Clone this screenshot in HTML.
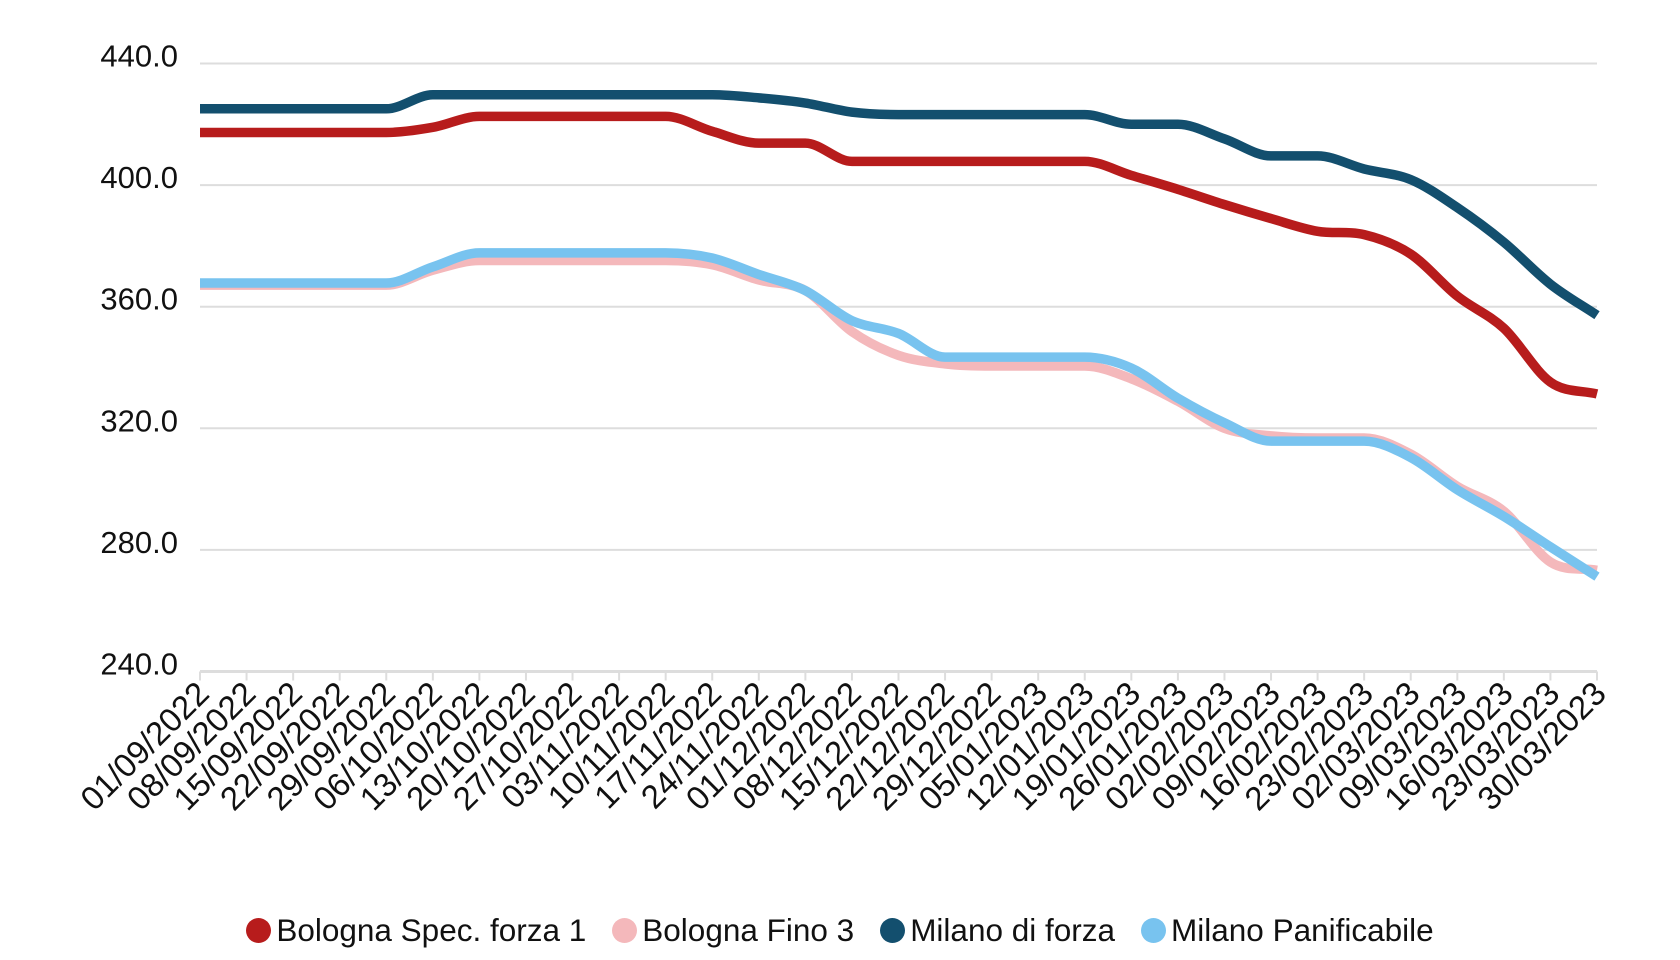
<!DOCTYPE html>
<html><head><meta charset="utf-8"><style>
body{margin:0;background:#fff;width:1680px;height:960px;overflow:hidden}
svg{position:absolute;left:0;top:0}
.legend{position:absolute;left:0;width:1680px;top:912px;display:flex;justify-content:center;font-family:"Liberation Sans",sans-serif;font-size:31.5px;color:#111}
.legend span{display:flex;align-items:center;margin:0 13px}
.legend i{display:inline-block;width:25px;height:25px;border-radius:50%;margin-right:5px}
</style></head><body>
<svg id="c" width="1680" height="960" xmlns="http://www.w3.org/2000/svg" font-family="Liberation Sans, sans-serif"></svg>
<div class="legend">
<span><i style="background:#b71c1c"></i>Bologna Spec. forza 1</span>
<span><i style="background:#f4b8bb"></i>Bologna Fino 3</span>
<span><i style="background:#134f6e"></i>Milano di forza</span>
<span><i style="background:#78c3ef"></i>Milano Panificabile</span>
</div>
<script>
var L=200,R=1597,T=63.5,S=3.04;
function Y(v){return T+(440-v)*S}
function X(i){return L+i*(R-L)/30}
var s='';
[440,400,360,320,280].forEach(function(v){s+='<line x1="'+L+'" x2="'+R+'" y1="'+Y(v)+'" y2="'+Y(v)+'" stroke="#ddd" stroke-width="2"/>';});
[440,400,360,320,280,240].forEach(function(v){s+='<text x="178" y="'+(Y(v)+3)+'" text-anchor="end" font-size="31" fill="#111">'+v.toFixed(1)+'</text>';});
s+='<line x1="'+L+'" x2="'+R+'" y1="'+Y(240)+'" y2="'+Y(240)+'" stroke="#ddd" stroke-width="3"/>';
var d=new Date(2022,8,1);
for(var i=0;i<=30;i++){
 var x=X(i);
 s+='<line x1="'+x+'" x2="'+x+'" y1="'+Y(240)+'" y2="'+(Y(240)+9)+'" stroke="#ddd" stroke-width="2"/>';
 var dd=new Date(d.getTime()+i*7*864e5);
 var t=('0'+dd.getDate()).slice(-2)+'/'+('0'+(dd.getMonth()+1)).slice(-2)+'/'+dd.getFullYear();
 s+='<text transform="translate('+(x+11)+','+(Y(240)+24)+') rotate(-45)" text-anchor="end" font-size="33" fill="#111">'+t+'</text>';
}
function path(a){
 var p=a.map(function(v,i){return [X(i),Y(v)]});var n=p.length,m=[],dl=[];
 for(var i=0;i<n-1;i++)dl.push((p[i+1][1]-p[i][1])/(p[i+1][0]-p[i][0]));
 for(i=0;i<n;i++){if(i==0)m.push(dl[0]);else if(i==n-1)m.push(dl[n-2]);else m.push(dl[i-1]*dl[i]<=0?0:(dl[i-1]+dl[i])/2);}
 var r='M'+p[0][0]+','+p[0][1];
 for(i=0;i<n-1;i++){var h=(p[i+1][0]-p[i][0])/3;
 r+=' C'+(p[i][0]+h)+','+(p[i][1]+m[i]*h)+' '+(p[i+1][0]-h)+','+(p[i+1][1]-m[i+1]*h)+' '+p[i+1][0]+','+p[i+1][1];}
 return r;
}
var red=[417.3,417.3,417.3,417.3,417.3,419,422.6,422.6,422.6,422.6,422.6,417.7,413.8,413.8,407.8,407.8,407.8,407.8,407.8,407.8,403.2,398.6,393.6,389,384.8,383.7,377.3,363.5,352.9,335.2,331.3];
var pink=[367.1,367.1,367.1,367.1,367.1,372,375.2,375.2,375.2,375.2,375.2,373.8,368.8,365.3,351.8,344,341.2,340.5,340.5,340.5,336.3,328.9,320,317.5,316.8,316.8,311.5,300.9,292.7,276,273.3];
var dblue=[425.1,425.1,425.1,425.1,425.1,429.7,429.7,429.7,429.7,429.7,429.7,429.7,428.7,427,424,423.2,423.2,423.2,423.2,423.2,420,420,415.2,409.6,409.6,405.3,401.8,392.6,381.2,367.4,357.2];
var lblue=[367.8,367.8,367.8,367.8,367.8,373.1,377.7,377.7,377.7,377.7,377.7,376,370.6,365.3,355.4,351.2,343.4,343.4,343.4,343.4,339.8,329.9,321.8,315.8,315.8,315.8,310.4,299.8,291,281,271.2];
[[red,'#b71c1c'],[pink,'#f4b8bb'],[dblue,'#134f6e'],[lblue,'#78c3ef']].forEach(function(q){
 s+='<path d="'+path(q[0])+'" fill="none" stroke="'+q[1]+'" stroke-width="9.5" stroke-linejoin="round"/>';});
document.getElementById('c').innerHTML=s;
</script>
</body></html>
